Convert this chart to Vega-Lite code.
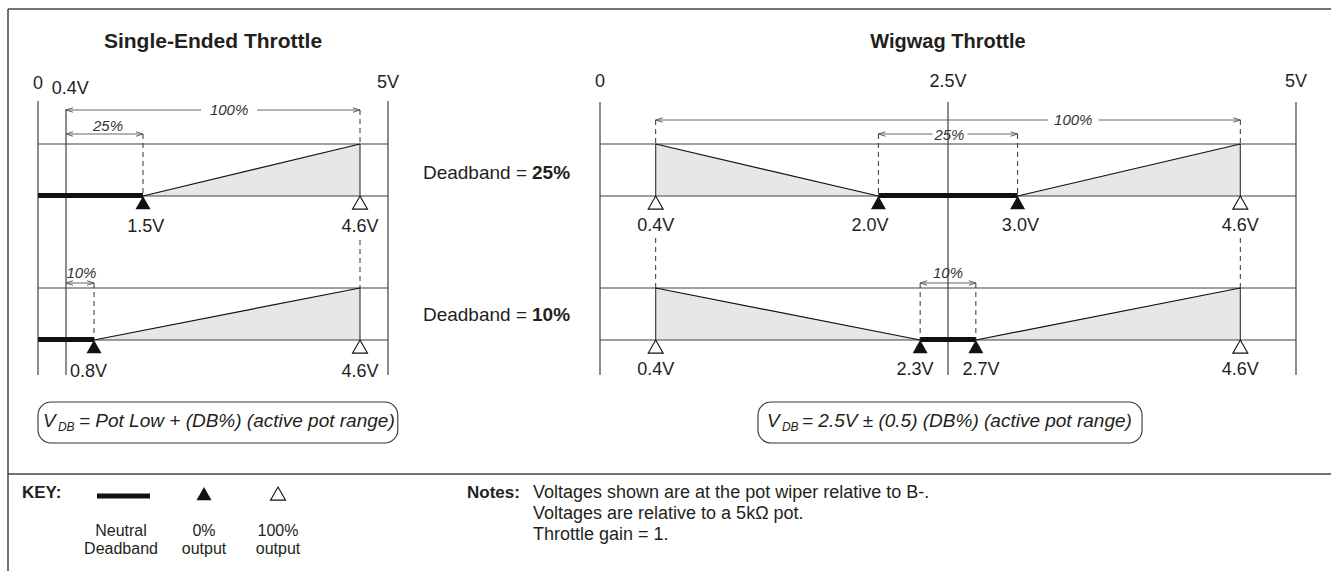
{
  "$schema": "https://vega.github.io/schema/vega-lite/v6.json",
  "width": 1331,
  "height": 571,
  "autosize": {"type": "fit", "contains": "padding"},
  "padding": 0,
  "background": "#ffffff",
  "config": {"view": {"stroke": null}, "text": {"font": "Liberation Sans", "color": "#231f20"}},
  "datasets": {
    "L_area": [
      {"id": "a", "v": 1.5, "yt": 196, "yb": 196},
      {"id": "a", "v": 4.6, "yt": 144, "yb": 196},
      {"id": "b", "v": 0.8, "yt": 340, "yb": 340},
      {"id": "b", "v": 4.6, "yt": 288, "yb": 340}
    ],
    "L_lines": [
      {"v": 0, "v2": 0, "y": 101, "y2": 375},
      {"v": 0.4, "v2": 0.4, "y": 109, "y2": 375},
      {"v": 5, "v2": 5, "y": 101, "y2": 375},
      {"v": 0, "v2": 5, "y": 144, "y2": 144},
      {"v": 0, "v2": 5, "y": 196, "y2": 196},
      {"v": 0, "v2": 5, "y": 288, "y2": 288},
      {"v": 0, "v2": 5, "y": 340, "y2": 340},
      {"v": 4.6, "v2": 4.6, "y": 144, "y2": 196},
      {"v": 4.6, "v2": 4.6, "y": 288, "y2": 340}
    ],
    "L_diag": [
      {"v": 1.5, "v2": 4.6, "y": 196, "y2": 144},
      {"v": 0.8, "v2": 4.6, "y": 340, "y2": 288}
    ],
    "L_dash": [
      {"v": 1.5, "v2": 1.5, "y": 134, "y2": 196},
      {"v": 4.6, "v2": 4.6, "y": 110, "y2": 144},
      {"v": 4.6, "v2": 4.6, "y": 240, "y2": 288},
      {"v": 0.8, "v2": 0.8, "y": 283, "y2": 340}
    ],
    "L_band": [
      {"v": 0, "v2": 1.5, "y": 195.5, "y2": 195.5},
      {"v": 0, "v2": 0.8, "y": 339.5, "y2": 339.5}
    ],
    "L_arrow": [
      {"v": 0.4, "v2": 2.33, "y": 110, "y2": 110},
      {"v": 3.13, "v2": 4.6, "y": 110, "y2": 110},
      {"v": 0.4, "v2": 1.5, "y": 134, "y2": 134},
      {"v": 0.4, "v2": 0.8, "y": 283, "y2": 283}
    ],
    "L_heads": [
      {"v": 0.4, "y": 110, "dir": "L"}, {"v": 4.6, "y": 110, "dir": "R"},
      {"v": 0.4, "y": 134, "dir": "L"}, {"v": 1.5, "y": 134, "dir": "R"},
      {"v": 0.4, "y": 283, "dir": "L"}, {"v": 0.8, "y": 283, "dir": "R"}
    ],
    "L_tri0": [{"v": 1.5, "y": 196}, {"v": 0.8, "y": 340}],
    "L_tri100": [{"v": 4.6, "y": 196}, {"v": 4.6, "y": 340}],
    "L_labels": [
      {"v": 0, "y": 84, "t": "0"},
      {"v": 0.46, "y": 89, "t": "0.4V"},
      {"v": 5, "y": 83, "t": "5V"},
      {"v": 1.54, "y": 227, "t": "1.5V"},
      {"v": 4.6, "y": 227, "t": "4.6V"},
      {"v": 0.72, "y": 372, "t": "0.8V"},
      {"v": 4.6, "y": 372, "t": "4.6V"}
    ],
    "L_pct": [
      {"v": 2.73, "y": 110, "t": "100%"},
      {"v": 1.0, "y": 126, "t": "25%"},
      {"v": 0.62, "y": 273, "t": "10%"}
    ],
    "L_title": [{"v": 2.5, "y": 42, "t": "Single-Ended Throttle"}],
    "L_box": [{"v": 0, "v2": 5.14, "y": 402, "y2": 443}],
    "L_fV": [{"v": 0.07, "y": 421, "t": "V"}],
    "L_fDB": [{"v": 0.285, "y": 427, "t": "DB"}],
    "L_fRest": [{"v": 0.585, "y": 421, "t": "= Pot Low + (DB%) (active pot range)"}],

    "R_area": [
      {"id": "a", "v": 0.4, "yt": 144, "yb": 196},
      {"id": "a", "v": 2.0, "yt": 196, "yb": 196},
      {"id": "b", "v": 3.0, "yt": 196, "yb": 196},
      {"id": "b", "v": 4.6, "yt": 144, "yb": 196},
      {"id": "c", "v": 0.4, "yt": 288, "yb": 340},
      {"id": "c", "v": 2.3, "yt": 340, "yb": 340},
      {"id": "d", "v": 2.7, "yt": 340, "yb": 340},
      {"id": "d", "v": 4.6, "yt": 288, "yb": 340}
    ],
    "R_lines": [
      {"v": 0, "v2": 0, "y": 102, "y2": 375},
      {"v": 2.5, "v2": 2.5, "y": 102, "y2": 375},
      {"v": 5, "v2": 5, "y": 102, "y2": 375},
      {"v": 0, "v2": 5, "y": 144, "y2": 144},
      {"v": 0, "v2": 5, "y": 196, "y2": 196},
      {"v": 0, "v2": 5, "y": 288, "y2": 288},
      {"v": 0, "v2": 5, "y": 340, "y2": 340},
      {"v": 0.4, "v2": 0.4, "y": 144, "y2": 196},
      {"v": 4.6, "v2": 4.6, "y": 144, "y2": 196},
      {"v": 0.4, "v2": 0.4, "y": 288, "y2": 340},
      {"v": 4.6, "v2": 4.6, "y": 288, "y2": 340}
    ],
    "R_diag": [
      {"v": 0.4, "v2": 2.0, "y": 144, "y2": 196},
      {"v": 3.0, "v2": 4.6, "y": 196, "y2": 144},
      {"v": 0.4, "v2": 2.3, "y": 288, "y2": 340},
      {"v": 2.7, "v2": 4.6, "y": 340, "y2": 288}
    ],
    "R_dash": [
      {"v": 0.4, "v2": 0.4, "y": 120, "y2": 144},
      {"v": 4.6, "v2": 4.6, "y": 120, "y2": 144},
      {"v": 2.0, "v2": 2.0, "y": 134, "y2": 196},
      {"v": 3.0, "v2": 3.0, "y": 134, "y2": 196},
      {"v": 0.4, "v2": 0.4, "y": 238, "y2": 288},
      {"v": 4.6, "v2": 4.6, "y": 238, "y2": 288},
      {"v": 2.3, "v2": 2.3, "y": 283, "y2": 340},
      {"v": 2.7, "v2": 2.7, "y": 283, "y2": 340}
    ],
    "R_band": [
      {"v": 2.0, "v2": 3.0, "y": 195.5, "y2": 195.5},
      {"v": 2.3, "v2": 2.7, "y": 339.5, "y2": 339.5}
    ],
    "R_arrow": [
      {"v": 0.4, "v2": 3.22, "y": 120, "y2": 120},
      {"v": 3.58, "v2": 4.6, "y": 120, "y2": 120},
      {"v": 2.0, "v2": 2.39, "y": 134, "y2": 134},
      {"v": 2.64, "v2": 3.0, "y": 134, "y2": 134},
      {"v": 2.3, "v2": 2.7, "y": 283, "y2": 283}
    ],
    "R_heads": [
      {"v": 0.4, "y": 120, "dir": "L"}, {"v": 4.6, "y": 120, "dir": "R"},
      {"v": 2.0, "y": 134, "dir": "L"}, {"v": 3.0, "y": 134, "dir": "R"},
      {"v": 2.3, "y": 283, "dir": "L"}, {"v": 2.7, "y": 283, "dir": "R"}
    ],
    "R_tri0": [{"v": 2.0, "y": 196}, {"v": 3.0, "y": 196}, {"v": 2.3, "y": 340}, {"v": 2.7, "y": 340}],
    "R_tri100": [{"v": 0.4, "y": 196}, {"v": 4.6, "y": 196}, {"v": 0.4, "y": 340}, {"v": 4.6, "y": 340}],
    "R_labels": [
      {"v": 0, "y": 82, "t": "0"},
      {"v": 2.5, "y": 82, "t": "2.5V"},
      {"v": 5, "y": 82, "t": "5V"},
      {"v": 0.4, "y": 226, "t": "0.4V"},
      {"v": 1.94, "y": 226, "t": "2.0V"},
      {"v": 3.02, "y": 226, "t": "3.0V"},
      {"v": 4.6, "y": 226, "t": "4.6V"},
      {"v": 0.4, "y": 370, "t": "0.4V"},
      {"v": 2.263, "y": 370, "t": "2.3V"},
      {"v": 2.737, "y": 370, "t": "2.7V"},
      {"v": 4.6, "y": 370, "t": "4.6V"}
    ],
    "R_pct": [
      {"v": 3.4, "y": 120, "t": "100%"},
      {"v": 2.51, "y": 135, "t": "25%"},
      {"v": 2.5, "y": 273, "t": "10%"}
    ],
    "R_title": [{"v": 2.5, "y": 42, "t": "Wigwag Throttle"}],
    "R_box": [{"v": 1.135, "v2": 3.894, "y": 402, "y2": 443}],
    "R_fV": [{"v": 1.2, "y": 421, "t": "V"}],
    "R_fDB": [{"v": 1.307, "y": 427, "t": "DB"}],
    "R_fRest": [{"v": 1.451, "y": 421, "t": "= 2.5V ± (0.5) (DB%) (active pot range)"}],

    "G_frame": [
      {"x": 8, "x2": 1331, "y": 9, "y2": 9},
      {"x": 8, "x2": 8, "y": 9, "y2": 571},
      {"x": 8, "x2": 1331, "y": 474, "y2": 474}
    ],
    "G_db": [
      {"x": 527, "y": 173, "t": "Deadband ="},
      {"x": 527, "y": 315, "t": "Deadband ="}
    ],
    "G_dbv": [
      {"x": 532, "y": 173, "t": "25%"},
      {"x": 532, "y": 315, "t": "10%"}
    ],
    "G_bold": [
      {"x": 22, "y": 493, "t": "KEY:"},
      {"x": 467, "y": 493, "t": "Notes:"}
    ],
    "G_keybar": [{"x": 97, "x2": 150, "y": 496, "y2": 496}],
    "G_tri0": [{"x": 204, "y": 487}],
    "G_tri100": [{"x": 278, "y": 487}],
    "G_keylab": [
      {"x": 121, "y": 531, "t": "Neutral"},
      {"x": 121, "y": 549, "t": "Deadband"},
      {"x": 204, "y": 531, "t": "0%"},
      {"x": 204, "y": 549, "t": "output"},
      {"x": 278, "y": 531, "t": "100%"},
      {"x": 278, "y": 549, "t": "output"}
    ],
    "G_notes": [
      {"x": 533, "y": 493, "t": "Voltages shown are at the pot wiper relative to B-."},
      {"x": 533, "y": 514, "t": "Voltages are relative to a 5kΩ pot."},
      {"x": 533, "y": 535, "t": "Throttle gain = 1."}
    ]
  },
  "layer": [
    {
      "layer": [
        {"data": {"name": "L_area"}, "mark": {"type": "area", "fill": "#e6e7e8", "stroke": null},
         "encoding": {"x": {"field": "v", "type": "quantitative", "scale": {"domain": [0, 5], "range": [38, 388], "nice": false, "zero": false}, "axis": null},
                      "y": {"field": "yt", "type": "quantitative", "scale": {"domain": [0, 571], "range": [0, 571], "nice": false, "zero": false}, "axis": null},
                      "y2": {"field": "yb"}, "detail": {"field": "id", "type": "nominal"}}},
        {"data": {"name": "L_lines"}, "mark": {"type": "rule", "color": "#404040", "strokeWidth": 1.2},
         "encoding": {"x": {"field": "v", "type": "quantitative", "scale": {"domain": [0, 5], "range": [38, 388], "nice": false, "zero": false}, "axis": null}, "x2": {"field": "v2"},
                      "y": {"field": "y", "type": "quantitative", "scale": {"domain": [0, 571], "range": [0, 571], "nice": false, "zero": false}, "axis": null}, "y2": {"field": "y2"}}},
        {"data": {"name": "L_diag"}, "mark": {"type": "rule", "color": "#111111", "strokeWidth": 1.2},
         "encoding": {"x": {"field": "v", "type": "quantitative", "scale": {"domain": [0, 5], "range": [38, 388], "nice": false, "zero": false}, "axis": null}, "x2": {"field": "v2"},
                      "y": {"field": "y", "type": "quantitative", "scale": {"domain": [0, 571], "range": [0, 571], "nice": false, "zero": false}, "axis": null}, "y2": {"field": "y2"}}},
        {"data": {"name": "L_dash"}, "mark": {"type": "rule", "color": "#333333", "strokeWidth": 1, "strokeDash": [5, 4]},
         "encoding": {"x": {"field": "v", "type": "quantitative", "scale": {"domain": [0, 5], "range": [38, 388], "nice": false, "zero": false}, "axis": null}, "x2": {"field": "v2"},
                      "y": {"field": "y", "type": "quantitative", "scale": {"domain": [0, 571], "range": [0, 571], "nice": false, "zero": false}, "axis": null}, "y2": {"field": "y2"}}},
        {"data": {"name": "L_band"}, "mark": {"type": "rule", "color": "#111111", "strokeWidth": 5},
         "encoding": {"x": {"field": "v", "type": "quantitative", "scale": {"domain": [0, 5], "range": [38, 388], "nice": false, "zero": false}, "axis": null}, "x2": {"field": "v2"},
                      "y": {"field": "y", "type": "quantitative", "scale": {"domain": [0, 571], "range": [0, 571], "nice": false, "zero": false}, "axis": null}, "y2": {"field": "y2"}}},
        {"data": {"name": "L_arrow"}, "mark": {"type": "rule", "color": "#555555", "strokeWidth": 0.9},
         "encoding": {"x": {"field": "v", "type": "quantitative", "scale": {"domain": [0, 5], "range": [38, 388], "nice": false, "zero": false}, "axis": null}, "x2": {"field": "v2"},
                      "y": {"field": "y", "type": "quantitative", "scale": {"domain": [0, 571], "range": [0, 571], "nice": false, "zero": false}, "axis": null}, "y2": {"field": "y2"}}},
        {"data": {"name": "L_heads"}, "transform": [{"filter": "datum.dir === 'L'"}],
         "mark": {"type": "point", "shape": "M1,-0.32L0,0L1,0.32", "size": 196, "filled": false, "stroke": "#555555", "strokeWidth": 0.9, "opacity": 1},
         "encoding": {"x": {"field": "v", "type": "quantitative", "scale": {"domain": [0, 5], "range": [38, 388], "nice": false, "zero": false}, "axis": null},
                      "y": {"field": "y", "type": "quantitative", "scale": {"domain": [0, 571], "range": [0, 571], "nice": false, "zero": false}, "axis": null}}},
        {"data": {"name": "L_heads"}, "transform": [{"filter": "datum.dir === 'R'"}],
         "mark": {"type": "point", "shape": "M-1,-0.32L0,0L-1,0.32", "size": 196, "filled": false, "stroke": "#555555", "strokeWidth": 0.9, "opacity": 1},
         "encoding": {"x": {"field": "v", "type": "quantitative", "scale": {"domain": [0, 5], "range": [38, 388], "nice": false, "zero": false}, "axis": null},
                      "y": {"field": "y", "type": "quantitative", "scale": {"domain": [0, 571], "range": [0, 571], "nice": false, "zero": false}, "axis": null}}},
        {"data": {"name": "L_tri0"},
         "mark": {"type": "point", "shape": "M0,0L1,1.75L-1,1.75Z", "size": 225, "filled": true, "fill": "#111111", "opacity": 1},
         "encoding": {"x": {"field": "v", "type": "quantitative", "scale": {"domain": [0, 5], "range": [38, 388], "nice": false, "zero": false}, "axis": null},
                      "y": {"field": "y", "type": "quantitative", "scale": {"domain": [0, 571], "range": [0, 571], "nice": false, "zero": false}, "axis": null}}},
        {"data": {"name": "L_tri100"},
         "mark": {"type": "point", "shape": "M0,0L1,1.75L-1,1.75Z", "size": 225, "filled": true, "fill": "#ffffff", "stroke": "#111111", "strokeWidth": 1.1, "opacity": 1},
         "encoding": {"x": {"field": "v", "type": "quantitative", "scale": {"domain": [0, 5], "range": [38, 388], "nice": false, "zero": false}, "axis": null},
                      "y": {"field": "y", "type": "quantitative", "scale": {"domain": [0, 571], "range": [0, 571], "nice": false, "zero": false}, "axis": null}}},
        {"data": {"name": "L_labels"}, "mark": {"type": "text", "fontSize": 18},
         "encoding": {"x": {"field": "v", "type": "quantitative", "scale": {"domain": [0, 5], "range": [38, 388], "nice": false, "zero": false}, "axis": null},
                      "y": {"field": "y", "type": "quantitative", "scale": {"domain": [0, 571], "range": [0, 571], "nice": false, "zero": false}, "axis": null},
                      "text": {"field": "t"}}},
        {"data": {"name": "L_pct"}, "mark": {"type": "text", "fontSize": 15, "fontStyle": "italic", "color": "#333333"},
         "encoding": {"x": {"field": "v", "type": "quantitative", "scale": {"domain": [0, 5], "range": [38, 388], "nice": false, "zero": false}, "axis": null},
                      "y": {"field": "y", "type": "quantitative", "scale": {"domain": [0, 571], "range": [0, 571], "nice": false, "zero": false}, "axis": null},
                      "text": {"field": "t"}}},
        {"data": {"name": "L_title"}, "mark": {"type": "text", "fontSize": 21, "fontWeight": "bold"},
         "encoding": {"x": {"field": "v", "type": "quantitative", "scale": {"domain": [0, 5], "range": [38, 388], "nice": false, "zero": false}, "axis": null},
                      "y": {"field": "y", "type": "quantitative", "scale": {"domain": [0, 571], "range": [0, 571], "nice": false, "zero": false}, "axis": null},
                      "text": {"field": "t"}}},
        {"data": {"name": "L_box"}, "mark": {"type": "rect", "fill": "#ffffff", "stroke": "#333333", "strokeWidth": 1.1, "cornerRadius": 13},
         "encoding": {"x": {"field": "v", "type": "quantitative", "scale": {"domain": [0, 5], "range": [38, 388], "nice": false, "zero": false}, "axis": null}, "x2": {"field": "v2"},
                      "y": {"field": "y", "type": "quantitative", "scale": {"domain": [0, 571], "range": [0, 571], "nice": false, "zero": false}, "axis": null}, "y2": {"field": "y2"}}},
        {"data": {"name": "L_fV"}, "mark": {"type": "text", "fontSize": 19, "fontStyle": "italic", "align": "left"},
         "encoding": {"x": {"field": "v", "type": "quantitative", "scale": {"domain": [0, 5], "range": [38, 388], "nice": false, "zero": false}, "axis": null},
                      "y": {"field": "y", "type": "quantitative", "scale": {"domain": [0, 571], "range": [0, 571], "nice": false, "zero": false}, "axis": null},
                      "text": {"field": "t"}}},
        {"data": {"name": "L_fDB"}, "mark": {"type": "text", "fontSize": 12, "fontStyle": "italic", "align": "left"},
         "encoding": {"x": {"field": "v", "type": "quantitative", "scale": {"domain": [0, 5], "range": [38, 388], "nice": false, "zero": false}, "axis": null},
                      "y": {"field": "y", "type": "quantitative", "scale": {"domain": [0, 571], "range": [0, 571], "nice": false, "zero": false}, "axis": null},
                      "text": {"field": "t"}}},
        {"data": {"name": "L_fRest"}, "mark": {"type": "text", "fontSize": 19, "fontStyle": "italic", "align": "left"},
         "encoding": {"x": {"field": "v", "type": "quantitative", "scale": {"domain": [0, 5], "range": [38, 388], "nice": false, "zero": false}, "axis": null},
                      "y": {"field": "y", "type": "quantitative", "scale": {"domain": [0, 571], "range": [0, 571], "nice": false, "zero": false}, "axis": null},
                      "text": {"field": "t"}}}
      ]
    },
    {
      "layer": [
        {"data": {"name": "R_area"}, "mark": {"type": "area", "fill": "#e6e7e8", "stroke": null},
         "encoding": {"x": {"field": "v", "type": "quantitative", "scale": {"domain": [0, 5], "range": [600, 1296], "nice": false, "zero": false}, "axis": null},
                      "y": {"field": "yt", "type": "quantitative", "scale": {"domain": [0, 571], "range": [0, 571], "nice": false, "zero": false}, "axis": null},
                      "y2": {"field": "yb"}, "detail": {"field": "id", "type": "nominal"}}},
        {"data": {"name": "R_lines"}, "mark": {"type": "rule", "color": "#404040", "strokeWidth": 1.2},
         "encoding": {"x": {"field": "v", "type": "quantitative", "scale": {"domain": [0, 5], "range": [600, 1296], "nice": false, "zero": false}, "axis": null}, "x2": {"field": "v2"},
                      "y": {"field": "y", "type": "quantitative", "scale": {"domain": [0, 571], "range": [0, 571], "nice": false, "zero": false}, "axis": null}, "y2": {"field": "y2"}}},
        {"data": {"name": "R_diag"}, "mark": {"type": "rule", "color": "#111111", "strokeWidth": 1.2},
         "encoding": {"x": {"field": "v", "type": "quantitative", "scale": {"domain": [0, 5], "range": [600, 1296], "nice": false, "zero": false}, "axis": null}, "x2": {"field": "v2"},
                      "y": {"field": "y", "type": "quantitative", "scale": {"domain": [0, 571], "range": [0, 571], "nice": false, "zero": false}, "axis": null}, "y2": {"field": "y2"}}},
        {"data": {"name": "R_dash"}, "mark": {"type": "rule", "color": "#333333", "strokeWidth": 1, "strokeDash": [5, 4]},
         "encoding": {"x": {"field": "v", "type": "quantitative", "scale": {"domain": [0, 5], "range": [600, 1296], "nice": false, "zero": false}, "axis": null}, "x2": {"field": "v2"},
                      "y": {"field": "y", "type": "quantitative", "scale": {"domain": [0, 571], "range": [0, 571], "nice": false, "zero": false}, "axis": null}, "y2": {"field": "y2"}}},
        {"data": {"name": "R_band"}, "mark": {"type": "rule", "color": "#111111", "strokeWidth": 5},
         "encoding": {"x": {"field": "v", "type": "quantitative", "scale": {"domain": [0, 5], "range": [600, 1296], "nice": false, "zero": false}, "axis": null}, "x2": {"field": "v2"},
                      "y": {"field": "y", "type": "quantitative", "scale": {"domain": [0, 571], "range": [0, 571], "nice": false, "zero": false}, "axis": null}, "y2": {"field": "y2"}}},
        {"data": {"name": "R_arrow"}, "mark": {"type": "rule", "color": "#555555", "strokeWidth": 0.9},
         "encoding": {"x": {"field": "v", "type": "quantitative", "scale": {"domain": [0, 5], "range": [600, 1296], "nice": false, "zero": false}, "axis": null}, "x2": {"field": "v2"},
                      "y": {"field": "y", "type": "quantitative", "scale": {"domain": [0, 571], "range": [0, 571], "nice": false, "zero": false}, "axis": null}, "y2": {"field": "y2"}}},
        {"data": {"name": "R_heads"}, "transform": [{"filter": "datum.dir === 'L'"}],
         "mark": {"type": "point", "shape": "M1,-0.32L0,0L1,0.32", "size": 196, "filled": false, "stroke": "#555555", "strokeWidth": 0.9, "opacity": 1},
         "encoding": {"x": {"field": "v", "type": "quantitative", "scale": {"domain": [0, 5], "range": [600, 1296], "nice": false, "zero": false}, "axis": null},
                      "y": {"field": "y", "type": "quantitative", "scale": {"domain": [0, 571], "range": [0, 571], "nice": false, "zero": false}, "axis": null}}},
        {"data": {"name": "R_heads"}, "transform": [{"filter": "datum.dir === 'R'"}],
         "mark": {"type": "point", "shape": "M-1,-0.32L0,0L-1,0.32", "size": 196, "filled": false, "stroke": "#555555", "strokeWidth": 0.9, "opacity": 1},
         "encoding": {"x": {"field": "v", "type": "quantitative", "scale": {"domain": [0, 5], "range": [600, 1296], "nice": false, "zero": false}, "axis": null},
                      "y": {"field": "y", "type": "quantitative", "scale": {"domain": [0, 571], "range": [0, 571], "nice": false, "zero": false}, "axis": null}}},
        {"data": {"name": "R_tri0"},
         "mark": {"type": "point", "shape": "M0,0L1,1.75L-1,1.75Z", "size": 225, "filled": true, "fill": "#111111", "opacity": 1},
         "encoding": {"x": {"field": "v", "type": "quantitative", "scale": {"domain": [0, 5], "range": [600, 1296], "nice": false, "zero": false}, "axis": null},
                      "y": {"field": "y", "type": "quantitative", "scale": {"domain": [0, 571], "range": [0, 571], "nice": false, "zero": false}, "axis": null}}},
        {"data": {"name": "R_tri100"},
         "mark": {"type": "point", "shape": "M0,0L1,1.75L-1,1.75Z", "size": 225, "filled": true, "fill": "#ffffff", "stroke": "#111111", "strokeWidth": 1.1, "opacity": 1},
         "encoding": {"x": {"field": "v", "type": "quantitative", "scale": {"domain": [0, 5], "range": [600, 1296], "nice": false, "zero": false}, "axis": null},
                      "y": {"field": "y", "type": "quantitative", "scale": {"domain": [0, 571], "range": [0, 571], "nice": false, "zero": false}, "axis": null}}},
        {"data": {"name": "R_labels"}, "mark": {"type": "text", "fontSize": 18},
         "encoding": {"x": {"field": "v", "type": "quantitative", "scale": {"domain": [0, 5], "range": [600, 1296], "nice": false, "zero": false}, "axis": null},
                      "y": {"field": "y", "type": "quantitative", "scale": {"domain": [0, 571], "range": [0, 571], "nice": false, "zero": false}, "axis": null},
                      "text": {"field": "t"}}},
        {"data": {"name": "R_pct"}, "mark": {"type": "text", "fontSize": 15, "fontStyle": "italic", "color": "#333333"},
         "encoding": {"x": {"field": "v", "type": "quantitative", "scale": {"domain": [0, 5], "range": [600, 1296], "nice": false, "zero": false}, "axis": null},
                      "y": {"field": "y", "type": "quantitative", "scale": {"domain": [0, 571], "range": [0, 571], "nice": false, "zero": false}, "axis": null},
                      "text": {"field": "t"}}},
        {"data": {"name": "R_title"}, "mark": {"type": "text", "fontSize": 20, "fontWeight": "bold"},
         "encoding": {"x": {"field": "v", "type": "quantitative", "scale": {"domain": [0, 5], "range": [600, 1296], "nice": false, "zero": false}, "axis": null},
                      "y": {"field": "y", "type": "quantitative", "scale": {"domain": [0, 571], "range": [0, 571], "nice": false, "zero": false}, "axis": null},
                      "text": {"field": "t"}}},
        {"data": {"name": "R_box"}, "mark": {"type": "rect", "fill": "#ffffff", "stroke": "#333333", "strokeWidth": 1.1, "cornerRadius": 13},
         "encoding": {"x": {"field": "v", "type": "quantitative", "scale": {"domain": [0, 5], "range": [600, 1296], "nice": false, "zero": false}, "axis": null}, "x2": {"field": "v2"},
                      "y": {"field": "y", "type": "quantitative", "scale": {"domain": [0, 571], "range": [0, 571], "nice": false, "zero": false}, "axis": null}, "y2": {"field": "y2"}}},
        {"data": {"name": "R_fV"}, "mark": {"type": "text", "fontSize": 19, "fontStyle": "italic", "align": "left"},
         "encoding": {"x": {"field": "v", "type": "quantitative", "scale": {"domain": [0, 5], "range": [600, 1296], "nice": false, "zero": false}, "axis": null},
                      "y": {"field": "y", "type": "quantitative", "scale": {"domain": [0, 571], "range": [0, 571], "nice": false, "zero": false}, "axis": null},
                      "text": {"field": "t"}}},
        {"data": {"name": "R_fDB"}, "mark": {"type": "text", "fontSize": 12, "fontStyle": "italic", "align": "left"},
         "encoding": {"x": {"field": "v", "type": "quantitative", "scale": {"domain": [0, 5], "range": [600, 1296], "nice": false, "zero": false}, "axis": null},
                      "y": {"field": "y", "type": "quantitative", "scale": {"domain": [0, 571], "range": [0, 571], "nice": false, "zero": false}, "axis": null},
                      "text": {"field": "t"}}},
        {"data": {"name": "R_fRest"}, "mark": {"type": "text", "fontSize": 19, "fontStyle": "italic", "align": "left"},
         "encoding": {"x": {"field": "v", "type": "quantitative", "scale": {"domain": [0, 5], "range": [600, 1296], "nice": false, "zero": false}, "axis": null},
                      "y": {"field": "y", "type": "quantitative", "scale": {"domain": [0, 571], "range": [0, 571], "nice": false, "zero": false}, "axis": null},
                      "text": {"field": "t"}}}
      ]
    },
    {
      "layer": [
        {"data": {"name": "G_frame"}, "mark": {"type": "rule", "color": "#444444", "strokeWidth": 1.5},
         "encoding": {"x": {"field": "x", "type": "quantitative", "scale": {"domain": [0, 1331], "range": [0, 1331], "nice": false, "zero": false}, "axis": null}, "x2": {"field": "x2"},
                      "y": {"field": "y", "type": "quantitative", "scale": {"domain": [0, 571], "range": [0, 571], "nice": false, "zero": false}, "axis": null}, "y2": {"field": "y2"}}},
        {"data": {"name": "G_keybar"}, "mark": {"type": "rule", "color": "#111111", "strokeWidth": 5},
         "encoding": {"x": {"field": "x", "type": "quantitative", "scale": {"domain": [0, 1331], "range": [0, 1331], "nice": false, "zero": false}, "axis": null}, "x2": {"field": "x2"},
                      "y": {"field": "y", "type": "quantitative", "scale": {"domain": [0, 571], "range": [0, 571], "nice": false, "zero": false}, "axis": null}, "y2": {"field": "y2"}}},
        {"data": {"name": "G_tri0"},
         "mark": {"type": "point", "shape": "M0,0L1,1.75L-1,1.75Z", "size": 225, "filled": true, "fill": "#111111", "opacity": 1},
         "encoding": {"x": {"field": "x", "type": "quantitative", "scale": {"domain": [0, 1331], "range": [0, 1331], "nice": false, "zero": false}, "axis": null},
                      "y": {"field": "y", "type": "quantitative", "scale": {"domain": [0, 571], "range": [0, 571], "nice": false, "zero": false}, "axis": null}}},
        {"data": {"name": "G_tri100"},
         "mark": {"type": "point", "shape": "M0,0L1,1.75L-1,1.75Z", "size": 225, "filled": true, "fill": "#ffffff", "stroke": "#111111", "strokeWidth": 1.1, "opacity": 1},
         "encoding": {"x": {"field": "x", "type": "quantitative", "scale": {"domain": [0, 1331], "range": [0, 1331], "nice": false, "zero": false}, "axis": null},
                      "y": {"field": "y", "type": "quantitative", "scale": {"domain": [0, 571], "range": [0, 571], "nice": false, "zero": false}, "axis": null}}},
        {"data": {"name": "G_db"}, "mark": {"type": "text", "fontSize": 19, "align": "right"},
         "encoding": {"x": {"field": "x", "type": "quantitative", "scale": {"domain": [0, 1331], "range": [0, 1331], "nice": false, "zero": false}, "axis": null},
                      "y": {"field": "y", "type": "quantitative", "scale": {"domain": [0, 571], "range": [0, 571], "nice": false, "zero": false}, "axis": null},
                      "text": {"field": "t"}}},
        {"data": {"name": "G_dbv"}, "mark": {"type": "text", "fontSize": 19, "fontWeight": "bold", "align": "left"},
         "encoding": {"x": {"field": "x", "type": "quantitative", "scale": {"domain": [0, 1331], "range": [0, 1331], "nice": false, "zero": false}, "axis": null},
                      "y": {"field": "y", "type": "quantitative", "scale": {"domain": [0, 571], "range": [0, 571], "nice": false, "zero": false}, "axis": null},
                      "text": {"field": "t"}}},
        {"data": {"name": "G_bold"}, "mark": {"type": "text", "fontSize": 17, "fontWeight": "bold", "align": "left"},
         "encoding": {"x": {"field": "x", "type": "quantitative", "scale": {"domain": [0, 1331], "range": [0, 1331], "nice": false, "zero": false}, "axis": null},
                      "y": {"field": "y", "type": "quantitative", "scale": {"domain": [0, 571], "range": [0, 571], "nice": false, "zero": false}, "axis": null},
                      "text": {"field": "t"}}},
        {"data": {"name": "G_keylab"}, "mark": {"type": "text", "fontSize": 16},
         "encoding": {"x": {"field": "x", "type": "quantitative", "scale": {"domain": [0, 1331], "range": [0, 1331], "nice": false, "zero": false}, "axis": null},
                      "y": {"field": "y", "type": "quantitative", "scale": {"domain": [0, 571], "range": [0, 571], "nice": false, "zero": false}, "axis": null},
                      "text": {"field": "t"}}},
        {"data": {"name": "G_notes"}, "mark": {"type": "text", "fontSize": 18, "align": "left"},
         "encoding": {"x": {"field": "x", "type": "quantitative", "scale": {"domain": [0, 1331], "range": [0, 1331], "nice": false, "zero": false}, "axis": null},
                      "y": {"field": "y", "type": "quantitative", "scale": {"domain": [0, 571], "range": [0, 571], "nice": false, "zero": false}, "axis": null},
                      "text": {"field": "t"}}}
      ]
    }
  ],
  "resolve": {"scale": {"x": "independent"}}
}
